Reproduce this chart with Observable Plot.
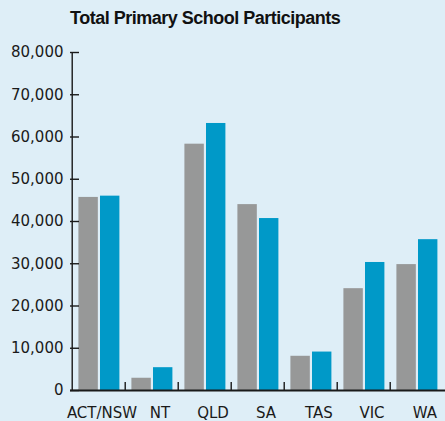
<!DOCTYPE html>
<html>
<head>
<meta charset="utf-8">
<script src="https://cdn.jsdelivr.net/npm/d3@7"></script>
<script src="https://cdn.jsdelivr.net/npm/@observablehq/plot@0.6"></script>
<style>
html, body { margin: 0; padding: 0; background: #deeef7; }
#title {
  font-family: "Liberation Sans", Arial, sans-serif;
  font-weight: bold;
  font-size: 18px;
  line-height: 18px;
  letter-spacing: -0.5px;
  color: #111;
  padding: 9px 0 0 70px;
  height: 26px;
  box-sizing: content-box;
}
#chart svg { display: block; }
</style>
</head>
<body>
<div id="title">Total Primary School Participants</div>
<div id="chart"></div>
<script>
const categories = ["ACT/NSW", "NT", "QLD", "SA", "TAS", "VIC", "WA"];
const seriesNames = ["Previous", "Current"];
const previousValues = [45700, 2900, 58300, 44000, 8100, 24100, 29800];
const currentValues = [46000, 5400, 63200, 40700, 9100, 30300, 35700];
const yTicks = [0, 10000, 20000, 30000, 40000, 50000, 60000, 70000, 80000];
const seriesColors = ["#979898", "#0099c8"];

const W = 445, H = 386, ML = 70, MR = 0, MT = 17, MB = 31;
const bw = (W - ML - MR) / categories.length;

const previousData = categories.map((c, i) => ({state: c, series: seriesNames[0], value: previousValues[i]}));
const currentData = categories.map((c, i) => ({state: c, series: seriesNames[1], value: currentValues[i]}));
const fmt = d3.format(",");
const ink = "#1a1a1a";

const plot = Plot.plot({
  width: W,
  height: H,
  marginLeft: ML,
  marginRight: MR,
  marginTop: MT,
  marginBottom: MB,
  style: {background: "transparent", fontFamily: "'DejaVu Sans', sans-serif", fontSize: "15px", color: ink, overflow: "visible"},
  x: {domain: categories, padding: 0},
  y: {domain: [0, 80000]},
  marks: [
    Plot.barY(previousData, {x: "state", y: "value", fill: seriesColors[0], insetLeft: 6.4, insetRight: bw - 26.4}),
    Plot.barY(currentData, {x: "state", y: "value", fill: seriesColors[1], insetLeft: 28, insetRight: 5.6}),
    Plot.ruleX([categories[0]], {y1: 0, y2: 80000, dx: -bw / 2, stroke: ink, strokeWidth: 1.4}),
    Plot.ruleX(categories.slice(1), {y1: 0, y2: 0, insetBottom: 8, dx: -bw / 2, stroke: ink, strokeWidth: 1.4}),
    Plot.ruleY([0], {stroke: ink, strokeWidth: 2}),
    Plot.axisY({ticks: yTicks, tickFormat: fmt, tickSize: -9, tickPadding: 16, stroke: ink, strokeWidth: 1.4, label: null}),
    Plot.axisX({ticks: categories.slice(0, 1), tickSize: 0, tickPadding: 17, dx: 3, label: null}),
    Plot.axisX({ticks: categories.slice(1), tickSize: 0, tickPadding: 17, dx: 8, label: null})
  ]
});
document.getElementById("chart").appendChild(plot);
</script>
</body>
</html>
